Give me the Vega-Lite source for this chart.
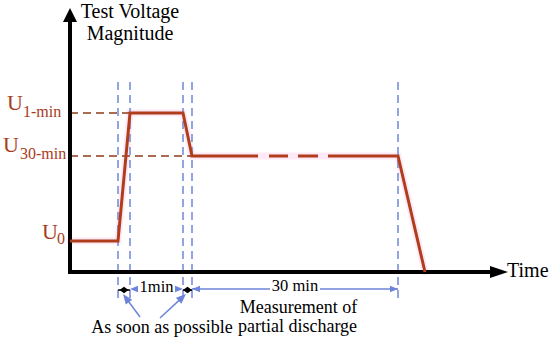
{
  "$schema": "https://vega.github.io/schema/vega-lite/v6.json",
  "width": 550,
  "height": 341,
  "padding": 0,
  "autosize": {"type": "fit", "contains": "padding"},
  "background": "white",
  "config": {"view": {"stroke": null}, "text": {"font": "Times New Roman, Liberation Serif, DejaVu Serif, serif"}},
  "datasets": {
    "glow": [
      {"t": 0, "v": 31}, {"t": 48, "v": 31}, {"t": 60, "v": 159}, {"t": 113, "v": 159},
      {"t": 122, "v": 116}, {"t": 328, "v": 116}, {"t": 355, "v": 0}
    ],
    "profile": [
      {"seg": "a", "t": 0, "v": 31}, {"seg": "a", "t": 48, "v": 31}, {"seg": "a", "t": 60, "v": 159},
      {"seg": "a", "t": 113, "v": 159}, {"seg": "a", "t": 122, "v": 116}, {"seg": "a", "t": 188, "v": 116},
      {"seg": "b", "t": 199, "v": 116}, {"seg": "b", "t": 218, "v": 116},
      {"seg": "c", "t": 228, "v": 116}, {"seg": "c", "t": 248, "v": 116},
      {"seg": "d", "t": 258, "v": 116}, {"seg": "d", "t": 328, "v": 116}, {"seg": "d", "t": 355, "v": 0}
    ],
    "levels": [
      {"t0": 0, "t1": 60, "v": 159},
      {"t0": 0, "t1": 122, "v": 116}
    ],
    "verticals": [
      {"t": 48, "v0": -26, "v1": 195}, {"t": 60, "v0": -26, "v1": 195},
      {"t": 113, "v0": -26, "v1": 195}, {"t": 122, "v0": -26, "v1": 195},
      {"t": 328, "v0": -26, "v1": 192}
    ],
    "axes": [
      {"t0": -2, "t1": 422, "v0": 0, "v1": 0},
      {"t0": 0, "t1": 0, "v0": -2, "v1": 250}
    ],
    "upHead": [{"t": 0, "v": 257}],
    "rightHead": [{"t": 429, "v": 0}],
    "blueLines": [
      {"t0": 122, "v0": -17, "t1": 200, "v1": -17},
      {"t0": 250, "v0": -17, "t1": 328, "v1": -17},
      {"t0": 70, "v0": -45, "t1": 56, "v1": -26},
      {"t0": 90, "v0": -46, "t1": 112.3, "v1": -25.4}
    ],
    "blueLeft": [{"t": 64, "v": -17}, {"t": 126, "v": -17}],
    "blueRight": [{"t": 109, "v": -17}, {"t": 324, "v": -17}],
    "diagLeft": [{"t": 56, "v": -26}],
    "diagRight": [{"t": 112.3, "v": -25.4}],
    "ticks": [{"t0": 48, "t1": 60, "v": -18}, {"t0": 113, "t1": 122, "v": -18}],
    "diamonds": [{"t": 54, "v": -18}, {"t": 117.5, "v": -18}],
    "titles": [
      {"t": 60, "v": 254, "label": "Test Voltage"},
      {"t": 60, "v": 232, "label": "Magnitude"}
    ],
    "timeLabel": [{"t": 437, "v": -5, "label": "Time"}],
    "uLetters": [
      {"t": -63, "v": 162, "label": "U"},
      {"t": -67, "v": 120, "label": "U"},
      {"t": -28, "v": 33, "label": "U"}
    ],
    "uSubs": [
      {"t": -47, "v": 155, "label": "1-min"},
      {"t": -50, "v": 113, "label": "30-min"},
      {"t": -13, "v": 28, "label": "0"}
    ],
    "smallNotes": [
      {"t": 86.5, "v": -20, "label": "1min"},
      {"t": 225, "v": -19, "label": "30 min"}
    ],
    "notes": [
      {"t": 228.5, "v": -41, "label": "Measurement of"},
      {"t": 227.5, "v": -60, "label": "partial discharge"},
      {"t": 92, "v": -61, "label": "As soon as possible"}
    ]
  },
  "layer": [
    {
      "data": {"name": "glow"},
      "mark": {"type": "line", "color": "#fdeaf6", "strokeWidth": 7, "strokeCap": "round"},
      "encoding": {
        "x": {"field": "t", "type": "quantitative", "axis": null, "scale": {"domain": [-70, 480], "nice": false, "zero": false}},
        "y": {"field": "v", "type": "quantitative", "axis": null, "scale": {"domain": [-69, 272], "nice": false, "zero": false}}
      }
    },
    {
      "data": {"name": "verticals"},
      "mark": {"type": "rule", "color": "#7088d8", "strokeWidth": 1.5, "strokeDash": [8, 5]},
      "encoding": {
        "x": {"field": "t", "type": "quantitative"},
        "y": {"field": "v0", "type": "quantitative"},
        "y2": {"field": "v1"}
      }
    },
    {
      "data": {"name": "levels"},
      "mark": {"type": "rule", "color": "#8e3a1c", "strokeWidth": 1.5, "strokeDash": [8, 5]},
      "encoding": {
        "x": {"field": "t0", "type": "quantitative"},
        "x2": {"field": "t1"},
        "y": {"field": "v", "type": "quantitative"}
      }
    },
    {
      "data": {"name": "axes"},
      "mark": {"type": "rule", "color": "black", "strokeWidth": 4},
      "encoding": {
        "x": {"field": "t0", "type": "quantitative"},
        "x2": {"field": "t1"},
        "y": {"field": "v0", "type": "quantitative"},
        "y2": {"field": "v1"}
      }
    },
    {
      "data": {"name": "upHead"},
      "mark": {"type": "point", "shape": "M0,-1L1,1L-1,1Z", "size": 196, "filled": true, "color": "black", "opacity": 1, "strokeWidth": 0},
      "encoding": {
        "x": {"field": "t", "type": "quantitative"},
        "y": {"field": "v", "type": "quantitative"}
      }
    },
    {
      "data": {"name": "rightHead"},
      "mark": {"type": "point", "shape": "M1,0L-1,-0.667L-1,0.667Z", "size": 324, "filled": true, "color": "black", "opacity": 1, "strokeWidth": 0},
      "encoding": {
        "x": {"field": "t", "type": "quantitative"},
        "y": {"field": "v", "type": "quantitative"}
      }
    },
    {
      "data": {"name": "profile"},
      "mark": {"type": "line", "color": "#b03e1d", "strokeWidth": 3},
      "encoding": {
        "x": {"field": "t", "type": "quantitative"},
        "y": {"field": "v", "type": "quantitative"},
        "detail": {"field": "seg"}
      }
    },
    {
      "data": {"name": "blueLines"},
      "mark": {"type": "rule", "color": "#6d84da", "strokeWidth": 1.5},
      "encoding": {
        "x": {"field": "t0", "type": "quantitative"},
        "x2": {"field": "t1"},
        "y": {"field": "v0", "type": "quantitative"},
        "y2": {"field": "v1"}
      }
    },
    {
      "data": {"name": "blueLeft"},
      "mark": {"type": "point", "shape": "M1,0L-1,-0.8L-1,0.8Z", "size": 64, "angle": 180, "filled": true, "color": "#6d84da", "opacity": 1, "strokeWidth": 0},
      "encoding": {
        "x": {"field": "t", "type": "quantitative"},
        "y": {"field": "v", "type": "quantitative"}
      }
    },
    {
      "data": {"name": "blueRight"},
      "mark": {"type": "point", "shape": "M1,0L-1,-0.8L-1,0.8Z", "size": 64, "angle": 0, "filled": true, "color": "#6d84da", "opacity": 1, "strokeWidth": 0},
      "encoding": {
        "x": {"field": "t", "type": "quantitative"},
        "y": {"field": "v", "type": "quantitative"}
      }
    },
    {
      "data": {"name": "diagLeft"},
      "mark": {"type": "point", "shape": "M1,0L-1,-0.8L-1,0.8Z", "size": 100, "angle": 233.5, "filled": true, "color": "#6d84da", "opacity": 1, "strokeWidth": 0},
      "encoding": {
        "x": {"field": "t", "type": "quantitative"},
        "y": {"field": "v", "type": "quantitative"}
      }
    },
    {
      "data": {"name": "diagRight"},
      "mark": {"type": "point", "shape": "M1,0L-1,-0.8L-1,0.8Z", "size": 100, "angle": 317.3, "filled": true, "color": "#6d84da", "opacity": 1, "strokeWidth": 0},
      "encoding": {
        "x": {"field": "t", "type": "quantitative"},
        "y": {"field": "v", "type": "quantitative"}
      }
    },
    {
      "data": {"name": "ticks"},
      "mark": {"type": "rule", "color": "black", "strokeWidth": 1.5},
      "encoding": {
        "x": {"field": "t0", "type": "quantitative"},
        "x2": {"field": "t1"},
        "y": {"field": "v", "type": "quantitative"}
      }
    },
    {
      "data": {"name": "diamonds"},
      "mark": {"type": "point", "shape": "M-1,0L0,-0.7L1,0L0,0.7Z", "size": 81, "filled": true, "color": "black", "opacity": 1, "strokeWidth": 0},
      "encoding": {
        "x": {"field": "t", "type": "quantitative"},
        "y": {"field": "v", "type": "quantitative"}
      }
    },
    {
      "data": {"name": "titles"},
      "mark": {"type": "text", "fontSize": 20, "align": "center", "baseline": "alphabetic", "color": "black"},
      "encoding": {
        "x": {"field": "t", "type": "quantitative"},
        "y": {"field": "v", "type": "quantitative"},
        "text": {"field": "label"}
      }
    },
    {
      "data": {"name": "timeLabel"},
      "mark": {"type": "text", "fontSize": 20, "align": "left", "baseline": "alphabetic", "color": "black"},
      "encoding": {
        "x": {"field": "t", "type": "quantitative"},
        "y": {"field": "v", "type": "quantitative"},
        "text": {"field": "label"}
      }
    },
    {
      "data": {"name": "uLetters"},
      "mark": {"type": "text", "fontSize": 22, "align": "left", "baseline": "alphabetic", "color": "#a83c1c"},
      "encoding": {
        "x": {"field": "t", "type": "quantitative"},
        "y": {"field": "v", "type": "quantitative"},
        "text": {"field": "label"}
      }
    },
    {
      "data": {"name": "uSubs"},
      "mark": {"type": "text", "fontSize": 16, "align": "left", "baseline": "alphabetic", "color": "#a83c1c"},
      "encoding": {
        "x": {"field": "t", "type": "quantitative"},
        "y": {"field": "v", "type": "quantitative"},
        "text": {"field": "label"}
      }
    },
    {
      "data": {"name": "smallNotes"},
      "mark": {"type": "text", "fontSize": 16.5, "align": "center", "baseline": "alphabetic", "color": "black"},
      "encoding": {
        "x": {"field": "t", "type": "quantitative"},
        "y": {"field": "v", "type": "quantitative"},
        "text": {"field": "label"}
      }
    },
    {
      "data": {"name": "notes"},
      "mark": {"type": "text", "fontSize": 18, "align": "center", "baseline": "alphabetic", "color": "black"},
      "encoding": {
        "x": {"field": "t", "type": "quantitative"},
        "y": {"field": "v", "type": "quantitative"},
        "text": {"field": "label"}
      }
    }
  ]
}
